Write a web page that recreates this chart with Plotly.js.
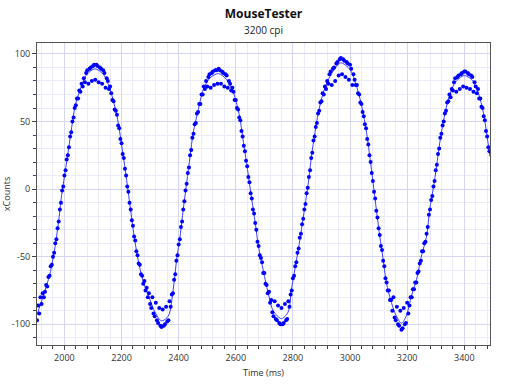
<!DOCTYPE html>
<html>
<head>
<meta charset="utf-8">
<script src="https://cdn.plot.ly/plotly-3.0.1.min.js"></script>
<style>
  html, body { margin: 0; padding: 0; background: #fff; }
  #chart { width: 512px; height: 384px; }
</style>
</head>
<body>
<div id="chart"></div>
<script>
// Smooth curve (line)
const lineTimes = [1904, 1926, 1949, 1967, 1979, 1990, 2002, 2014, 2026, 2037, 2055, 2078, 2107, 2137, 2160, 2184, 2201, 2216, 2230, 2244, 2260, 2277, 2300, 2317, 2340, 2364, 2381, 2393, 2405, 2416, 2428, 2440, 2451, 2469, 2486, 2510, 2539, 2568, 2592, 2613, 2627, 2641, 2654, 2668, 2679, 2697, 2713, 2731, 2760, 2783, 2795, 2807, 2819, 2830, 2842, 2854, 2865, 2877, 2889, 2906, 2930, 2967, 3000, 3023, 3041, 3058, 3072, 3085, 3095, 3104, 3116, 3127, 3145, 3162, 3180, 3197, 3215, 3233, 3250, 3268, 3279, 3291, 3303, 3314, 3326, 3344, 3367, 3399, 3426, 3449, 3467, 3478, 3490];
const lineCounts = [-93, -79, -63, -43, -25, -5, 12, 29, 46.5, 61, 73.7, 84.7, 89, 84.7, 73.7, 54, 31.8, 9.6, -12.6, -34.7, -54.4, -69, -82, -91, -97.5, -93.8, -74, -52, -34.7, -15, 4.7, 24.4, 41.7, 59, 73.7, 82.3, 85.5, 81, 71.2, 54, 34.3, 14.6, -5, -24.8, -42, -61, -76.5, -90, -95.8, -91, -74, -59, -44.5, -29.8, -12.6, 4.7, 24.4, 41.7, 56.4, 71.2, 83.5, 93.4, 88.4, 76, 61.3, 41.7, 19.5, -2.7, -20, -34.7, -52, -69, -84, -93.8, -99.2, -93.8, -79, -66.7, -49.5, -34.7, -15, 0, 17, 34.3, 49, 66.3, 78.6, 84, 81, 71.2, 56.4, 41.7, 24];

// Sampled reports (dots), one every 4 ms starting at 1904 ms
const dotStart = 1904;
const dotStep = 4;
const dotCounts = [
  -97, -86, -92, -80, -85, -77, -80, -76, -71, -72,
  -65, -64, -57, -56, -50, -47, -40, -37, -29, -24,
  -15, -10, -1, 2, 10, 14, 22, 25, 31, 39,
  42, 50, 53, 60, 62, 67, 67, 73, 72, 78,
  76, 82, 79, 86, 88, 78, 89, 90, 80, 91,
  92, 81, 92, 91, 79, 90, 89, 78, 88, 86,
  75, 82, 80, 74, 76, 71, 66, 65, 59, 58,
  55, 47, 45, 37, 34, 26, 23, 15, 10, 2,
  -2, -10, -15, -23, -27, -35, -38, -46, -49, -55,
  -56, -63, -64, -70, -68, -75, -73, -80, -77, -85,
  -88, -80, -92, -94, -84, -97, -99, -88, -101, -102,
  -89, -101, -100, -87, -98, -97, -83, -87, -78, -77,
  -67, -63, -53, -49, -41, -37, -28, -24, -15, -9,
  -1, 4, 12, 16, 25, 29, 38, 41, 48, 49,
  56, 57, 63, 63, 70, 70, 76, 74, 80, 76,
  83, 85, 75, 86, 87, 77, 88, 88, 78, 89,
  88, 78, 87, 86, 76, 85, 84, 75, 80, 78,
  73, 75, 72, 66, 66, 60, 59, 53, 51, 43,
  39, 32, 28, 21, 17, 9, 5, -3, -7, -15,
  -18, -25, -30, -39, -42, -49, -51, -54, -62, -62,
  -70, -71, -77, -76, -84, -82, -91, -94, -83, -96,
  -97, -86, -99, -100, -88, -100, -99, -85, -97, -96,
  -83, -87, -78, -75, -66, -64, -57, -54, -47, -44,
  -36, -33, -26, -22, -15, -11, -3, 1, 9, 14,
  23, 27, 36, 39, 46, 49, 56, 58, 64, 65,
  71, 70, 76, 74, 80, 78, 85, 87, 77, 89,
  90, 80, 93, 94, 84, 96, 97, 85, 96, 95,
  83, 94, 93, 81, 92, 89, 77, 85, 81, 77,
  77, 71, 70, 64, 63, 57, 54, 48, 45, 37,
  33, 25, 20, 12, 6, -2, -7, -16, -21, -29,
  -34, -42, -45, -53, -57, -66, -69, -75, -75, -82,
  -82, -90, -80, -95, -97, -87, -100, -101, -90, -104,
  -103, -88, -100, -99, -84, -92, -86, -80, -80, -74,
  -74, -69, -69, -62, -61, -55, -53, -46, -46, -40,
  -39, -33, -28, -19, -15, -8, -5, 2, 6, 14,
  18, 26, 30, 38, 41, 47, 50, 56, 58, 64,
  65, 70, 68, 74, 73, 79, 82, 72, 83, 84,
  74, 85, 86, 76, 87, 87, 75, 86, 85, 74,
  84, 83, 72, 79, 76, 71, 74, 67, 67, 61,
  60, 54, 51, 43, 39, 31, 28
];

const xTicks = [2000, 2200, 2400, 2600, 2800, 3000, 3200, 3400];
const yTicks = [-100, -50, 0, 50, 100];

const FONT = '"Open Sans", "Noto Sans", sans-serif';
const majorGrid = 'rgb(214,214,242)';
const minorGrid = 'rgb(234,234,250)';

const traces = [
  {
    type: 'scatter', mode: 'lines',
    x: lineTimes, y: lineCounts,
    line: { color: 'rgb(60,60,255)', width: 1, shape: 'spline', smoothing: 0.8 },
    hoverinfo: 'skip', showlegend: false
  },
  {
    type: 'scatter', mode: 'markers',
    x0: dotStart, dx: dotStep, y: dotCounts,
    marker: { color: 'rgb(0,0,255)', size: 4, line: { width: 0 } },
    showlegend: false
  }
];

const layout = {
  width: 512, height: 384,
  margin: { l: 37, r: 22, t: 43, b: 39 },
  paper_bgcolor: '#fff', plot_bgcolor: '#fff',
  font: { family: FONT, size: 9, color: '#333' },
  title: {
    text: '<b>MouseTester</b>',
    font: { family: FONT, size: 12, color: '#111' },
    x: 0.5, xref: 'paper', xanchor: 'center',
    y: 0.9635, yref: 'container', yanchor: 'middle'
  },
  annotations: [
    {
      text: '3200 cpi', xref: 'paper', yref: 'paper',
      x: 0.5, y: 1, xanchor: 'center', yanchor: 'middle', yshift: 13,
      showarrow: false, font: { family: FONT, size: 10, color: '#222' }
    }
  ],
  xaxis: {
    range: [1904, 3490],
    tickvals: xTicks, ticktext: xTicks.map(String),
    ticks: 'outside', ticklen: 4, tickcolor: '#444', tickwidth: 1,
    showgrid: true, gridcolor: majorGrid, gridwidth: 1,
    minor: { dtick: 40, tick0: 2000, showgrid: true, gridcolor: minorGrid, ticks: 'outside', ticklen: 3, tickcolor: '#444' },
    showline: true, linecolor: '#555', linewidth: 1, mirror: true,
    zeroline: false,
    tickfont: { family: FONT, size: 9, color: '#333' },
    title: { text: 'Time (ms)', font: { family: FONT, size: 9, color: '#333' }, standoff: 6 }
  },
  yaxis: {
    range: [-115.3, 108.1],
    tickvals: yTicks, ticktext: yTicks.map(String),
    ticks: 'outside', ticklen: 4, tickcolor: '#444', tickwidth: 1,
    showgrid: true, gridcolor: majorGrid, gridwidth: 1,
    minor: { dtick: 10, tick0: 0, showgrid: true, gridcolor: minorGrid, ticks: 'outside', ticklen: 3, tickcolor: '#444' },
    showline: true, linecolor: '#555', linewidth: 1, mirror: true,
    zeroline: false,
    tickfont: { family: FONT, size: 9, color: '#333' },
    title: { text: 'xCounts', font: { family: FONT, size: 9, color: '#333' }, standoff: 6 }
  }
};

Plotly.newPlot('chart', traces, layout, { staticPlot: true, displayModeBar: false });
</script>
</body>
</html>
